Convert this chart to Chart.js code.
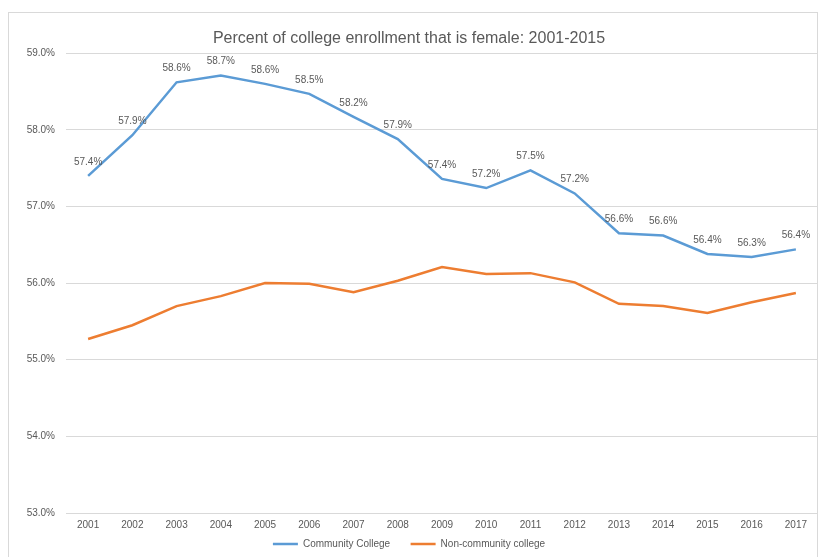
<!DOCTYPE html>
<html>
<head>
<meta charset="utf-8">
<script src="https://cdn.jsdelivr.net/npm/chart.js@4"></script>
<style>
    body { margin: 0; background: #ffffff; }
    #wrap { position: relative; width: 820px; height: 557px; }
    #frame { position: absolute; left: 8px; top: 12px; width: 810px; height: 560px; border: 1px solid #d9d9d9; box-sizing: border-box; pointer-events: none; }
</style>
</head>
<body>
<div id="wrap">
    <canvas id="enrollChart" width="820" height="557"></canvas>
    <div id="frame"></div>
</div>
<script>
// Chart data
const years = ['2001', '2002', '2003', '2004', '2005', '2006', '2007', '2008', '2009',
               '2010', '2011', '2012', '2013', '2014', '2015', '2016', '2017'];
const communityCollege = [57.40, 57.93, 58.62, 58.71, 58.60, 58.47, 58.17, 57.88, 57.36,
                          57.24, 57.47, 57.17, 56.65, 56.62, 56.38, 56.34, 56.44];
const nonCommunityCollege = [55.27, 55.45, 55.70, 55.83, 56.00, 55.99, 55.88, 56.03, 56.21,
                             56.12, 56.13, 56.01, 55.73, 55.70, 55.61, 55.75, 55.87];
const yTicks = [53, 54, 55, 56, 57, 58, 59];

const FONT = '"Liberation Sans", Arial, sans-serif';
const TEXT_GREY = '#595959';

// draws value labels above the points of the first series
const pointLabels = {
    id: 'pointLabels',
    afterDatasetsDraw(chart) {
        const ctx = chart.ctx;
        const meta = chart.getDatasetMeta(0);
        ctx.save();
        ctx.font = '10px ' + FONT;
        ctx.fillStyle = TEXT_GREY;
        ctx.textAlign = 'center';
        ctx.textBaseline = 'middle';
        meta.data.forEach((pt, i) => {
            ctx.fillText(communityCollege[i].toFixed(1) + '%', pt.x, pt.y - 14);
        });
        ctx.restore();
    }
};

const ctx = document.getElementById('enrollChart').getContext('2d');
new Chart(ctx, {
    type: 'line',
    data: {
        labels: years,
        datasets: [{
            label: 'Community College',
            data: communityCollege,
            borderColor: '#5B9BD5',
            backgroundColor: '#5B9BD5',
            borderWidth: 2.5,
            pointRadius: 0,
            tension: 0
        }, {
            label: 'Non-community college',
            data: nonCommunityCollege,
            borderColor: '#ED7D31',
            backgroundColor: '#ED7D31',
            borderWidth: 2.5,
            pointRadius: 0,
            tension: 0
        }]
    },
    options: {
        responsive: false,
        animation: false,
        layout: {
            padding: { left: 0, right: 2, top: 0, bottom: -2 }
        },
        plugins: {
            title: {
                display: true,
                text: 'Percent of college enrollment that is female: 2001-2015',
                color: TEXT_GREY,
                font: { family: FONT, size: 16, weight: 'normal' },
                padding: { top: 29, bottom: 5 }
            },
            legend: {
                position: 'bottom',
                labels: {
                    color: TEXT_GREY,
                    font: { family: FONT, size: 10 },
                    usePointStyle: true,
                    pointStyle: 'line',
                    pointStyleWidth: 25,
                    padding: 1,
                    // wider gap between the two legend entries
                    generateLabels(chart) {
                        const items = Chart.defaults.plugins.legend.labels.generateLabels(chart);
                        items[0].text += '\u00a0\u00a0\u00a0\u00a0\u00a0\u00a0\u00a0';
                        return items;
                    }
                }
            },
            tooltip: { enabled: false }
        },
        scales: {
            x: {
                offset: true,
                grid: { display: false, drawTicks: false },
                border: { display: false },
                ticks: {
                    color: TEXT_GREY,
                    font: { family: FONT, size: 10, lineHeight: 0.5 },
                    padding: 10,
                    maxRotation: 0,
                    autoSkip: false
                }
            },
            y: {
                min: 53,
                max: 59,
                afterFit(scale) { scale.width = 66; },
                afterBuildTicks(scale) { scale.ticks = yTicks.map(v => ({ value: v })); },
                grid: { color: '#d9d9d9', drawTicks: false },
                border: { display: false },
                ticks: {
                    color: TEXT_GREY,
                    font: { family: FONT, size: 10 },
                    padding: 11,
                    callback: value => value.toFixed(1) + '%'
                }
            }
        }
    },
    plugins: [pointLabels]
});
</script>
</body>
</html>
